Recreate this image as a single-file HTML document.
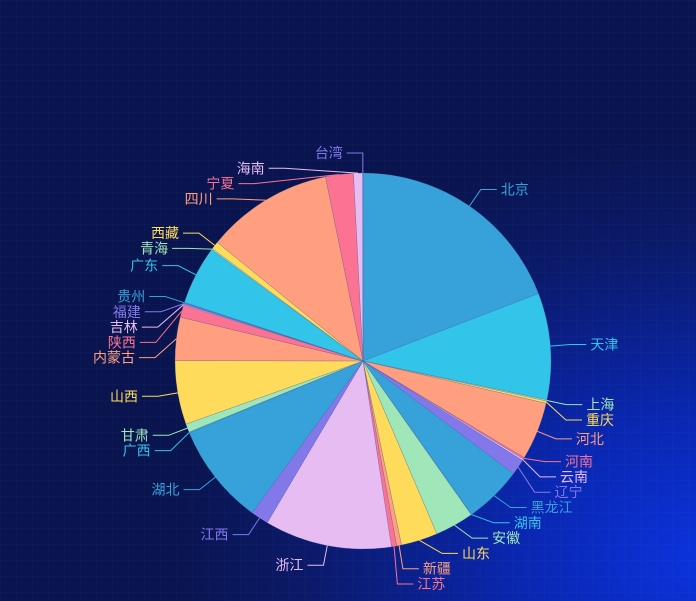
<!DOCTYPE html>
<html><head><meta charset="utf-8">
<style>
html,body{margin:0;padding:0;}
body{width:696px;height:601px;overflow:hidden;
background:radial-gradient(ellipse 520px 420px at 700px 560px,#0b33dc 0%,#0a27b0 35%,#0b1a6a 75%,#0a1550 100%);
font-family:"Liberation Sans","Noto Sans CJK SC",sans-serif;}
svg{position:absolute;left:0;top:0;}
</style></head>
<body>
<svg id="chart" width="696" height="601">
<defs>
<pattern id="grid" width="16" height="16" patternUnits="userSpaceOnUse">
<path d="M16 0 L0 0 0 16" fill="none" stroke="rgba(120,150,255,0.06)" stroke-width="1"/>
</pattern>
</defs>
<rect width="696" height="601" fill="url(#grid)"/>
<g id="slices"></g><g id="labels"></g>
</svg>
<script>
const categories=["北京","天津","上海","重庆","河北","河南","云南","辽宁","黑龙江","湖南","安徽","山东","新疆","江苏","浙江","江西","湖北","广西","甘肃","山西","内蒙古","陕西","吉林","福建","贵州","广东","青海","西藏","四川","宁夏","海南","台湾"];
const values=[68.9,32.9,0.4,0.7,17.9,0.5,0.5,4.9,17.8,0.2,12.0,11.3,1.5,1.6,39.3,5.5,31.3,0.3,2.6,19.7,13.4,3.8,0.3,0.3,0.3,18.1,0.4,2.4,39.3,8.6,2.8,0.1];
const palette=["#37a2da","#32c5e9","#9fe6b8","#ffdb5c","#ff9f7f","#fb7293","#e7bcf3","#8378ea"];
const cx=363,cy=361,R=188,L1=20,L2=16,GAP=15.3,MAXY=584;
const NS="http://www.w3.org/2000/svg";
const total=values.reduce((a,b)=>a+b,0);
const gS=document.getElementById('slices'),gL=document.getElementById('labels');
function pt(r,a){return [cx+r*Math.sin(a),cy-r*Math.cos(a)];}
let acc=0;const items=[];
values.forEach((v,i)=>{
  const a0=acc/total*2*Math.PI;acc+=v;const a1=acc/total*2*Math.PI;
  const p0=pt(R,a0),p1=pt(R,a1);const large=(a1-a0)>Math.PI?1:0;
  const path=document.createElementNS(NS,'path');
  path.setAttribute('d',`M${cx},${cy}L${p0[0]},${p0[1]}A${R},${R} 0 ${large} 1 ${p1[0]},${p1[1]}Z`);
  path.setAttribute('fill',palette[i%8]);
  path.setAttribute('stroke','rgba(80,100,160,0.5)');path.setAttribute('stroke-width','0.5');
  
  
  gS.appendChild(path);
  const m=(a0+a1)/2;const e=pt(R,m),b=pt(R+L1,m);
  items.push({i,e,b,y:b[1],right:Math.sin(m)>=0});
});
function layout(list){
  list.sort((a,b)=>a.y-b.y);
  let prev=-1e9;
  list.forEach(t=>{t.ly=Math.max(t.y,prev+GAP);prev=t.ly;});
  let next=MAXY+GAP;
  for(let k=list.length-1;k>=0;k--){const t=list[k];t.ly=Math.min(t.ly,next-GAP);next=t.ly;}
}
layout(items.filter(t=>t.right));layout(items.filter(t=>!t.right));
items.forEach(t=>{
  const col=palette[t.i%8];const by=t.ly;
  const dy=by-cy,RR=R+L1;
  const off=Math.sqrt(Math.max(0,RR*RR-dy*dy));
  const bx=t.right?Math.max(cx+off,t.b[0]):Math.min(cx-off,t.b[0]);
  const ex=t.right?bx+L2:bx-L2;
  const pl=document.createElementNS(NS,'polyline');
  pl.setAttribute('points',`${t.e[0]},${t.e[1]} ${bx},${by} ${ex},${by}`);
  pl.setAttribute('fill','none');pl.setAttribute('stroke',col);pl.setAttribute('stroke-width','1');
  
  
  gL.appendChild(pl);
  const tx=document.createElementNS(NS,'text');
  tx.setAttribute('x',t.right?ex+4:ex-4);tx.setAttribute('y',by+5);
  tx.setAttribute('text-anchor',t.right?'start':'end');
  tx.setAttribute('fill',col);tx.setAttribute('font-size','14');
  tx.textContent=categories[t.i];
  
  
  gL.appendChild(tx);
});
</script>
</body></html>
